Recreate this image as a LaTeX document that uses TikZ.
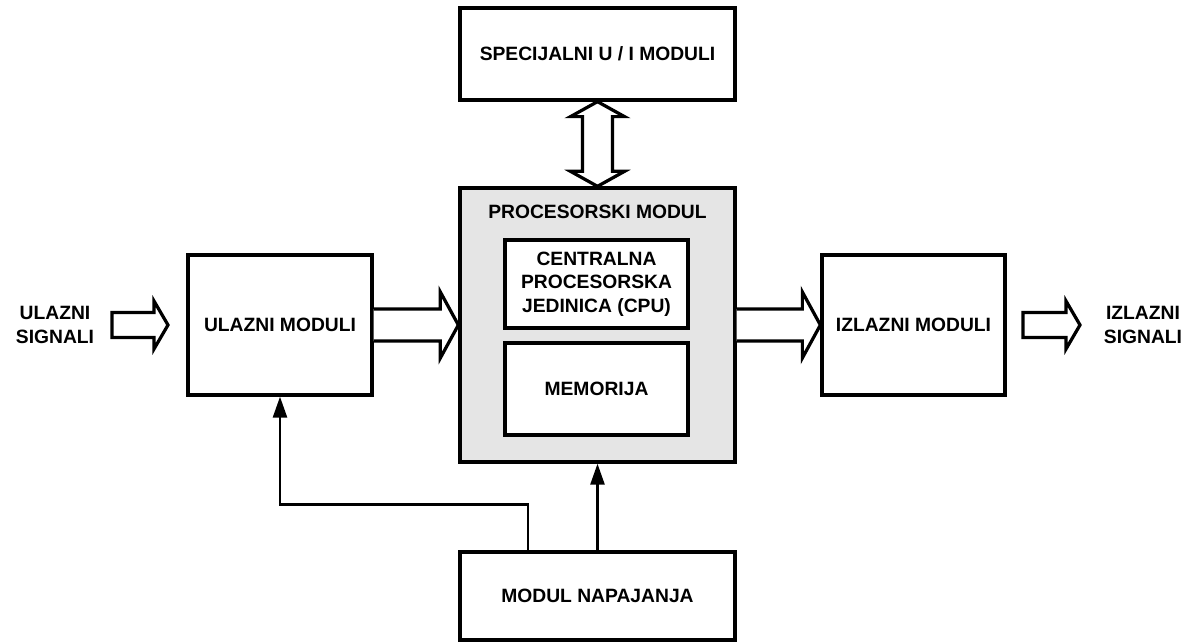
\documentclass[tikz,border=0pt]{standalone}
\usepackage{fontspec}
\setmainfont{Liberation Sans}
\usetikzlibrary{calc,arrows.meta}

\begin{document}
\begin{tikzpicture}[x=0.025cm,y=-0.025cm]
    \tikzstyle{block}=[draw=black,line width=2.3pt,fill=white,inner sep=0pt,align=center,
        font=\bfseries\fontsize{13.7}{16.8}\selectfont]
    \tikzstyle{txt}=[align=center,inner sep=0pt,font=\bfseries\fontsize{13.7}{16.8}\selectfont]
    \tikzstyle{hollow}=[draw=black,line width=2.3pt,fill=white,line join=miter]
    \tikzstyle{feed}=[draw=black,line width=1.8pt,-{Triangle[length=15pt,width=10pt]}]
    \useasboundingbox (0,0) rectangle (1185,643);

    % blocks
    \node[block,minimum width=6.875cm,minimum height=2.3cm] (spec) at (597.5,54) {SPECIJALNI U / I MODULI};
    \node[block,fill=black!10,minimum width=6.875cm,minimum height=6.85cm,
        label={[txt,anchor=north,yshift=-13pt]north:PROCESORSKI MODUL}] (proc) at (597.5,325) {};
    \node[block,minimum width=4.575cm,minimum height=2.2cm] (cpu) at (596.5,284) {CENTRALNA\\PROCESORSKA\\JEDINICA (CPU)};
    \node[block,minimum width=4.575cm,minimum height=2.3cm] (mem) at (596.5,389) {MEMORIJA};
    \node[block,minimum width=4.6cm,minimum height=3.5cm] (ul) at (280,325) {ULAZNI MODULI};
    \node[block,minimum width=4.575cm,minimum height=3.5cm] (iz) at (913.5,325) {IZLAZNI MODULI};
    \node[block,minimum width=6.875cm,minimum height=2.2cm] (nap) at (597.5,596) {MODUL NAPAJANJA};
    \node[txt] (insig) at (55,325) {ULAZNI\\SIGNALI};
    \node[txt] (outsig) at (1143,325) {IZLAZNI\\SIGNALI};

    \coordinate (inA) at (112,325);
    \coordinate (inB) at (168,325);
    \coordinate (outA) at (1023,325);
    \coordinate (outB) at (1080,325);

    % signal arrows
    \draw[hollow] ($(inA)+(0,-12.5)$) -- ($(inB)+(-14,-12.5)$) -- ($(inB)+(-14,-24)$) -- (inB)
        -- ($(inB)+(-14,24)$) -- ($(inB)+(-14,12.5)$) -- ($(inA)+(0,12.5)$) -- cycle;
    \draw[hollow] ($(outA)+(0,-12.5)$) -- ($(outB)+(-14,-12.5)$) -- ($(outB)+(-14,-24)$) -- (outB)
        -- ($(outB)+(-14,24)$) -- ($(outB)+(-14,12.5)$) -- ($(outA)+(0,12.5)$) -- cycle;

    % data paths
    \draw[hollow] ($(ul.east)+(0,-16)$) -- ($(proc.west)+(-18,-16)$) -- ($(proc.west)+(-18,-33)$) -- (proc.west)
        -- ($(proc.west)+(-18,33)$) -- ($(proc.west)+(-18,16)$) -- ($(ul.east)+(0,16)$);
    \draw[hollow] ($(proc.east)+(0,-16)$) -- ($(iz.west)+(-18,-16)$) -- ($(iz.west)+(-18,-33)$) -- (iz.west)
        -- ($(iz.west)+(-18,33)$) -- ($(iz.west)+(-18,16)$) -- ($(proc.east)+(0,16)$);
    \draw[hollow] (spec.south) -- ($(spec.south)+(-27,15)$) -- ($(spec.south)+(-15,15)$)
        -- ($(proc.north)+(-15,-15)$) -- ($(proc.north)+(-27,-15)$) -- (proc.north)
        -- ($(proc.north)+(27,-15)$) -- ($(proc.north)+(15,-15)$)
        -- ($(spec.south)+(15,15)$) -- ($(spec.south)+(27,15)$) -- cycle;

    % power supply
    \draw[feed] (nap.north) -- (proc.south);
    \draw[feed] ($(nap.north)+(-69.5,0)$) -- ++(0,-46) -| (ul.south);
\end{tikzpicture}
\end{document}
